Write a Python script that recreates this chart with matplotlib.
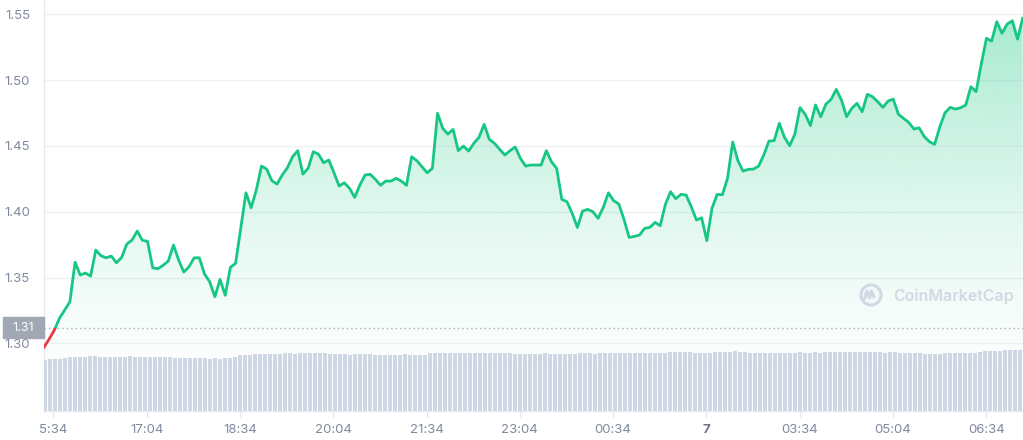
import numpy as np
import matplotlib.pyplot as plt
from matplotlib.patches import Rectangle, Circle
from matplotlib.transforms import blended_transform_factory

# price (USD), one point every ~5 minutes
prices = [
    1.2970, 1.3033, 1.3101, 1.3192, 1.3253, 1.3316, 1.3616, 1.3519, 1.3534, 1.3511,
    1.3709, 1.3666, 1.3650, 1.3663, 1.3612, 1.3653, 1.3755, 1.3785, 1.3853, 1.3783,
    1.3775, 1.3574, 1.3567, 1.3593, 1.3625, 1.3747, 1.3633, 1.3542, 1.3582, 1.3650,
    1.3650, 1.3527, 1.3468, 1.3354, 1.3486, 1.3365, 1.3578, 1.3608, 1.3874, 1.4144,
    1.4030, 1.4165, 1.4347, 1.4324, 1.4236, 1.4210, 1.4279, 1.4334, 1.4418, 1.4464,
    1.4286, 1.4330, 1.4456, 1.4438, 1.4372, 1.4393, 1.4296, 1.4195, 1.4220, 1.4178,
    1.4109, 1.4203, 1.4279, 1.4284, 1.4246, 1.4201, 1.4233, 1.4233, 1.4254, 1.4233,
    1.4201, 1.4418, 1.4388, 1.4342, 1.4296, 1.4330, 1.4748, 1.4634, 1.4590, 1.4626,
    1.4464, 1.4499, 1.4461, 1.4520, 1.4565, 1.4664, 1.4550, 1.4520, 1.4474, 1.4431,
    1.4464, 1.4492, 1.4406, 1.4347, 1.4355, 1.4355, 1.4355, 1.4464, 1.4380, 1.4330,
    1.4094, 1.4076, 1.3988, 1.3881, 1.4005, 1.4018, 1.4000, 1.3950, 1.4033, 1.4144,
    1.4084, 1.4059, 1.3942, 1.3805, 1.3813, 1.3823, 1.3874, 1.3881, 1.3919, 1.3894,
    1.4056, 1.4152, 1.4099, 1.4132, 1.4127, 1.4038, 1.3937, 1.3954, 1.3780, 1.4026,
    1.4132, 1.4129, 1.4254, 1.4530, 1.4388, 1.4309, 1.4322, 1.4324, 1.4347, 1.4431,
    1.4537, 1.4540, 1.4672, 1.4565, 1.4502, 1.4590, 1.4792, 1.4740, 1.4655, 1.4811,
    1.4722, 1.4818, 1.4854, 1.4930, 1.4849, 1.4722, 1.4786, 1.4824, 1.4760, 1.4892,
    1.4874, 1.4836, 1.4793, 1.4841, 1.4856, 1.4740, 1.4710, 1.4679, 1.4628, 1.4638,
    1.4570, 1.4532, 1.4512, 1.4646, 1.4752, 1.4793, 1.4780, 1.4790, 1.4811, 1.4950,
    1.4912, 1.5122, 1.5318, 1.5297, 1.5444, 1.5356, 1.5426, 1.5451, 1.5312, 1.5470,
]

# volume (arbitrary units, only relative height matters)
volume = [
    5.1, 5.2, 5.2, 5.2, 5.3, 5.4, 5.4, 5.4, 5.4, 5.5, 5.5, 5.4, 5.4, 5.4, 5.4, 5.4,
    5.4, 5.5, 5.4, 5.4, 5.4, 5.4, 5.4, 5.4, 5.4, 5.4, 5.3, 5.3, 5.3, 5.3, 5.3, 5.3,
    5.3, 5.2, 5.3, 5.2, 5.3, 5.3, 5.4, 5.6, 5.6, 5.6, 5.7, 5.7, 5.7, 5.7, 5.7, 5.7,
    5.8, 5.8, 5.7, 5.8, 5.8, 5.8, 5.8, 5.8, 5.8, 5.7, 5.7, 5.7, 5.7, 5.6, 5.7, 5.7,
    5.7, 5.7, 5.6, 5.6, 5.6, 5.6, 5.6, 5.6, 5.7, 5.6, 5.6, 5.6, 5.6, 5.8, 5.8, 5.8,
    5.8, 5.8, 5.8, 5.8, 5.8, 5.8, 5.8, 5.8, 5.8, 5.8, 5.8, 5.8, 5.8, 5.8, 5.7, 5.7,
    5.7, 5.7, 5.7,
    5.7, 5.8, 5.7, 5.7, 5.7, 5.7, 5.7, 5.7, 5.8, 5.8, 5.8, 5.7, 5.8, 5.8, 5.8, 5.8,
    5.8, 5.8, 5.8, 5.8, 5.8, 5.8, 5.8, 5.8, 5.8, 5.8, 5.9, 5.9, 5.9, 5.9, 5.9, 5.8,
    5.8, 5.8, 5.8, 5.9, 5.9, 5.9, 5.9, 6.0, 5.9, 5.9, 5.8, 5.8, 5.8, 5.8, 5.8, 5.8,
    5.8, 5.8, 5.8, 5.8, 5.9, 5.8, 5.8, 5.9, 5.8, 5.9, 5.9, 5.9, 5.9, 5.9, 5.9, 5.9,
    5.9, 5.9, 5.9, 5.9, 5.9, 5.8, 5.9, 5.9, 5.8, 5.8, 5.8, 5.8, 5.8, 5.7, 5.7, 5.7,
    5.7, 5.8, 5.8, 5.8, 5.8, 5.8, 5.8, 5.8, 5.9, 6.0, 6.0, 6.0, 6.0, 6.1, 6.1, 6.1,
    6.1,
]

tick_labels = ['5:34', '17:04', '18:34', '20:04', '21:34', '23:04',
               '00:34', '7', '03:34', '05:04', '06:34']
price_ticks = [1.30, 1.35, 1.40, 1.45, 1.50, 1.55]
open_price = 1.312

GREEN = '#16c784'
RED = '#ea3943'
GRID = '#eff2f5'
LABEL = '#808a9d'

plt.rcParams['font.family'] = ['Inter', 'DejaVu Sans']

fig = plt.figure(figsize=(10.23, 4.40), dpi=100)
ax = fig.add_axes([44 / 1023, 29 / 440, 979 / 1023, 411 / 440])

# x axis in hours after the first labelled tick
x0, x1 = -0.15, 15.59
ymin, ymax = 1.2486, 1.5609
t_price = np.linspace(-0.15, 15.585, len(prices))
t_vol = np.linspace(-0.133, 15.54, len(volume))

ax.set_xlim(x0, x1)
ax.set_ylim(ymin, ymax)

# gradient area under the line
area = ax.fill_between(t_price, prices, ymin, color='none', lw=0)
g = np.linspace(0, 1, 256).reshape(-1, 1)
rgba = np.zeros((256, 1, 4))
rgba[..., 0], rgba[..., 1], rgba[..., 2] = 22 / 255, 199 / 255, 132 / 255
rgba[..., 3] = 0.40 * g ** 1.5
img = ax.imshow(rgba, extent=[x0, x1, ymin, ymax], origin='lower',
                aspect='auto', zorder=1, interpolation='bilinear')
img.set_clip_path(area.get_paths()[0], transform=ax.transData)

# line: green above the open price, red below
above = Rectangle((x0, open_price), x1 - x0, ymax - open_price, transform=ax.transData)
below = Rectangle((x0, ymin), x1 - x0, open_price - ymin, transform=ax.transData)
lg, = ax.plot(t_price, prices, color=GREEN, lw=2, zorder=3, solid_joinstyle='round')
lr, = ax.plot(t_price, prices, color=RED, lw=2, zorder=3, solid_joinstyle='round')
lg.set_clip_path(above)
lr.set_clip_path(below)

ax.axhline(open_price, color='#a6acb8', lw=1, ls=(0, (1, 2.2)), zorder=2)

ax.set_yticks(price_ticks)
ax.set_yticklabels([f'{v:.2f}' for v in price_ticks])
ax.grid(axis='y', color=GRID, lw=1)
ax.set_axisbelow(True)
ax.tick_params(axis='y', length=0, pad=10, labelsize=9.5, labelcolor=LABEL)

ax.set_xticks(np.arange(0, 15.01, 1.5))
ax.set_xticklabels(tick_labels)
ax.tick_params(axis='x', length=4, width=1, color='#e3e6ec', pad=5,
               labelsize=9.5, labelcolor=LABEL)
for lab in ax.get_xticklabels():
    if lab.get_text() == '7':
        lab.set_fontweight('bold')
        lab.set_color('#6c7486')

for s in ['top', 'right']:
    ax.spines[s].set_visible(False)
for s in ['left', 'bottom']:
    ax.spines[s].set_color('#e6e9ef')
    ax.spines[s].set_linewidth(1)

# volume bars
ax2 = ax.twinx()
ax2.set_ylim(0, 41.1)
width = 0.8 * (t_vol[1] - t_vol[0])
ax2.bar(t_vol, volume, width=width, color='#cfd6e4', lw=0)
ax2.axis('off')

# current price tag on the axis
blend = blended_transform_factory(ax.transAxes, ax.transData)
ax.add_patch(Rectangle((-41 / 979, open_price - 0.008), 41 / 979, 0.016,
                       transform=blend, color='#a1a7b3', clip_on=False, zorder=5))
ax.text(-21 / 979, open_price, '1.31', transform=blend, ha='center', va='center',
        color='white', fontsize=9, zorder=6)

# watermark
wm = '#d3d9e4'
fig.patches.append(Circle((8.71, 1.45), 0.10, transform=fig.dpi_scale_trans,
                          fill=False, lw=2.2, color=wm))
fig.lines.append(plt.Line2D([8.645, 8.67, 8.695, 8.715, 8.74], [1.41, 1.49, 1.42, 1.49, 1.43],
                            transform=fig.dpi_scale_trans, color=wm, lw=2.2,
                            solid_joinstyle='round', solid_capstyle='round'))
fig.text(893 / 1023, 1 - 296 / 440, 'CoinMarketCap', ha='left', va='center',
         fontsize=11.5, fontweight='semibold', color=wm)

plt.savefig('out.png', dpi=100)
